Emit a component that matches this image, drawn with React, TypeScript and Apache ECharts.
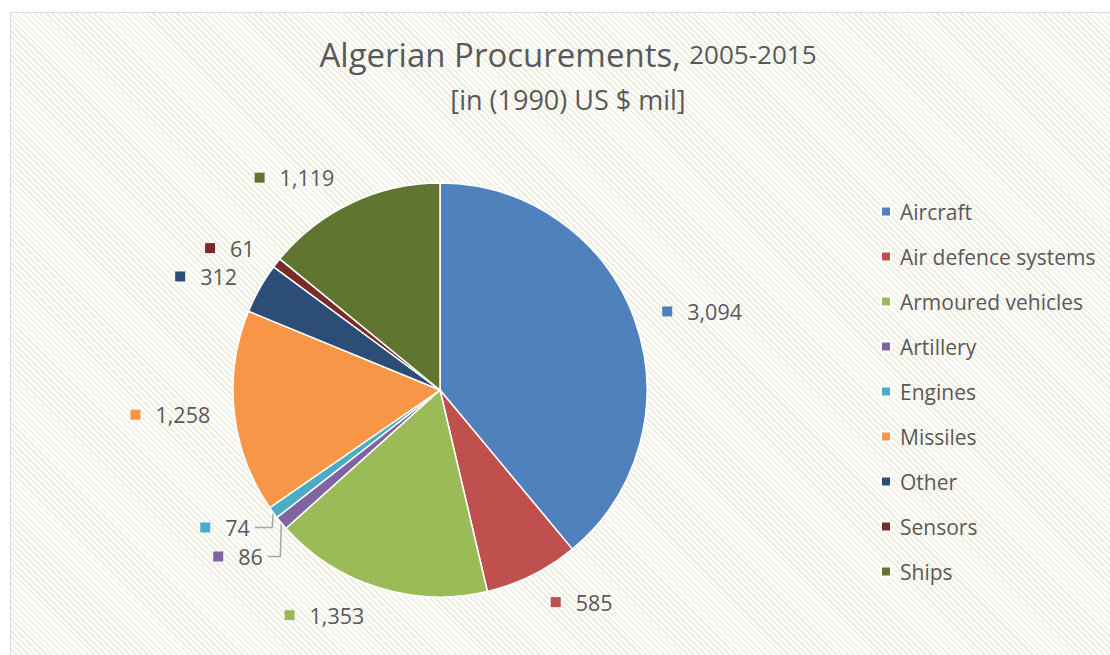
import React, { useEffect, useRef } from "react";
import * as echarts from "echarts";

const categories = [
  "Aircraft",
  "Air defence systems",
  "Armoured vehicles",
  "Artillery",
  "Engines",
  "Missiles",
  "Other",
  "Sensors",
  "Ships",
];
const values = [3094, 585, 1353, 86, 74, 1258, 312, 61, 1119];
const colors = [
  "#4F81BD",
  "#C0504D",
  "#9BBB59",
  "#8064A2",
  "#4BACC6",
  "#F79646",
  "#2C4D75",
  "#772C2A",
  "#5F7530",
];
const leaderCategories = ["Artillery", "Engines"];

const FONT = "'Open Sans', Lato, sans-serif";
const TXT = "#595959";

export default function App() {
  const ref = useRef<HTMLDivElement>(null);
  useEffect(() => {
    if (!ref.current) return;
    const chart = echarts.init(ref.current, undefined, { renderer: "svg" });
    const rich: Record<string, any> = {
      g: { width: 15 },
      v: { fontSize: 21.5, fontFamily: FONT, color: TXT },
    };
    colors.forEach((c, i) => {
      rich["s" + i] = { width: 10, height: 10, backgroundColor: c };
    });
    const lineLength: Record<string, number> = {
      "Air defence systems": 30,
      "Armoured vehicles": 29,
      Ships: 28,
    };
    const data = categories.map((name, i) => {
      const leader = leaderCategories.includes(name);
      return {
        name,
        value: values[i],
        labelLine: leader
          ? { show: true, length: 20, length2: 10 }
          : { show: false, length: lineLength[name] ?? 24, length2: 0 },
      };
    });
    const shiftY: Record<string, number> = { Artillery: 8, Engines: 3 };
    const shiftX: Record<string, number> = { Artillery: 2, Engines: 7 };
    chart.setOption({
      animation: false,
      color: colors,
      title: {
        text: "{a|Algerian Procurements, }{b|2005-2015}\n{c|[in (1990) US $ mil]}",
        left: 563,
        top: 27,
        textAlign: "center",
        textStyle: {
          align: "center",
          fontWeight: "normal",
          rich: {
            a: { fontSize: 33, fontFamily: FONT, color: TXT, lineHeight: 44, fontWeight: "normal" },
            b: { fontSize: 26, fontFamily: FONT, color: TXT, lineHeight: 44, fontWeight: "normal" },
            c: { fontSize: 27, fontFamily: FONT, color: TXT, lineHeight: 46, fontWeight: "normal", align: "center" },
          },
        },
      },
      legend: {
        orient: "vertical",
        left: 875,
        top: 196,
        icon: "rect",
        itemWidth: 10,
        itemHeight: 10,
        itemGap: 24,
        data: categories,
        textStyle: {
          fontSize: 21,
          fontFamily: FONT,
          color: TXT,
          lineHeight: 20,
          padding: [0, 0, 0, 4],
        },
      },
      series: [
        {
          type: "pie",
          center: [440, 390],
          radius: 207,
          startAngle: 90,
          clockwise: true,
          avoidLabelOverlap: true,
          itemStyle: { borderColor: "#ffffff", borderWidth: 1.5 },
          label: {
            show: true,
            position: "outside",
            formatter: (p: any) =>
              `{s${p.dataIndex}|}{g|}{v|${p.value.toLocaleString("en-US")}}`,
            rich,
          },
          labelLine: {
            length: 24,
            length2: 0,
            lineStyle: { color: "#a6a6a6", width: 1.5 },
          },
          labelLayout: (params: any) => {
            const name = categories[params.dataIndex];
            if (!(name in shiftY)) return {};
            const pts = params.labelLinePoints;
            const r = params.labelRect;
            if (!pts || !r) return { dx: shiftX[name], dy: shiftY[name] };
            const cy = r.y + r.height / 2 + shiftY[name];
            const p0 = pts[0];
            return {
              dx: shiftX[name],
              dy: shiftY[name],
              labelLinePoints: [
                [p0[0], p0[1]],
                [p0[0] - 1, cy],
                [r.x + r.width + shiftX[name] + 5, cy],
              ],
            };
          },
          emphasis: { disabled: true },
          data,
        },
      ],
    });
    return () => chart.dispose();
  }, []);

  return (
    <div
      style={{
        position: "fixed",
        left: 0,
        top: 0,
        width: 1110,
        height: 655,
        overflow: "hidden",
        background: "#ffffff",
      }}
    >
      <div
        style={{
          position: "absolute",
          left: 10,
          top: 12,
          width: 1200,
          height: 700,
          border: "1.5px solid #d9d9d9",
          backgroundImage:
            "repeating-linear-gradient(45deg, #ffffff 0px, #ffffff 2.4px, #efeee0 2.4px, #efeee0 4.2px)",
        }}
      />
      <div
        ref={ref}
        style={{ position: "absolute", left: 0, top: 0, width: 1110, height: 655 }}
      />
    </div>
  );
}
